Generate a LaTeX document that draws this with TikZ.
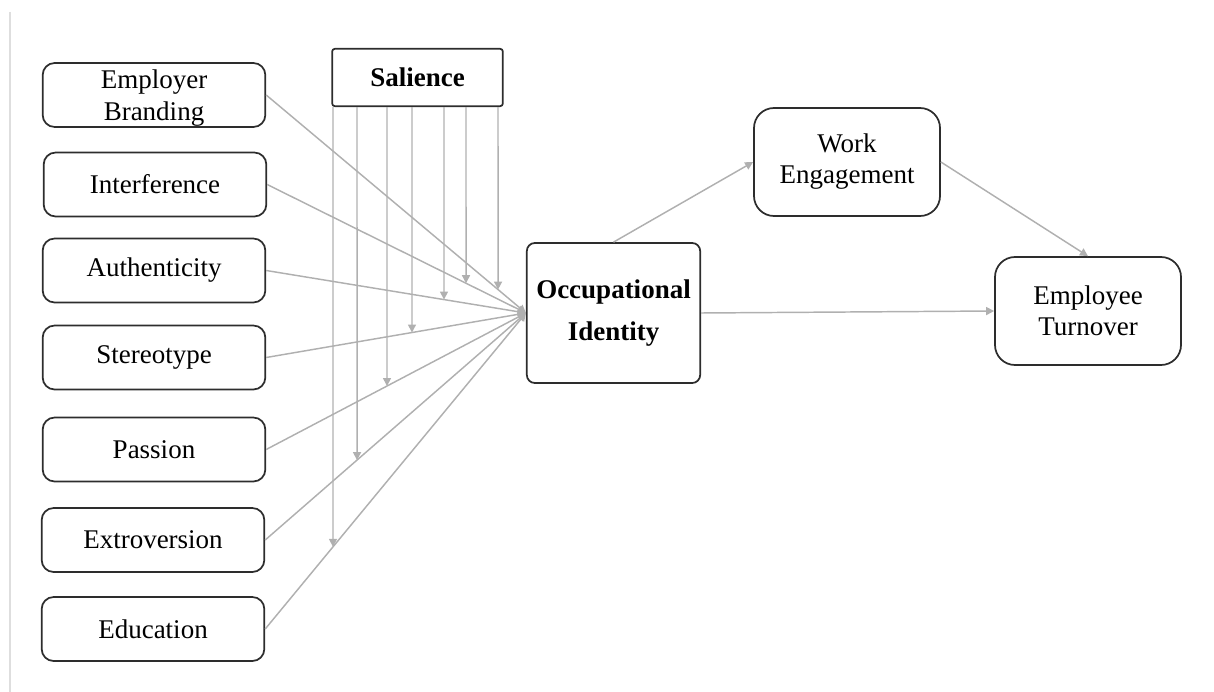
\documentclass[tikz,border=0pt]{standalone}
\usepackage{fontspec}
\setmainfont{Liberation Serif}
\usetikzlibrary{arrows.meta}
\definecolor{linegray}{RGB}{176,176,176}
\definecolor{boxline}{RGB}{45,45,45}
\newcommand{\boxfont}{\fontsize{20.25}{23.25}\selectfont}
\tikzset{
  factor/.style={draw=boxline, line width=1.3pt, rounded corners=9pt, minimum width=167pt, minimum height=48pt, align=center, font=\boxfont},
  outcome/.style={draw=boxline, line width=1.3pt, rounded corners=15pt, minimum width=139.5pt, minimum height=81pt, align=center, font=\boxfont},
  conn/.style={draw=linegray, line width=1.1pt, -{Triangle[length=6pt,width=6pt]}}
}
\begin{document}
\begin{tikzpicture}[x=0.75pt,y=0.75pt,yscale=-1,xscale=1]
\useasboundingbox (0,0) rectangle (1214,692);
\draw [draw={rgb, 255:red, 222; green, 222; blue, 222 }, line width=1.3pt] (10,12) -- (10,692) ;
\node [factor, text depth=0pt] (emp) at (154,95) {Employer\\[0.75pt]Branding};
\node [factor] (intf) at (155,184.5) {Interference};
\node [factor] (auth) at (154,270.5) {Authenticity};
\node [factor] (ster) at (154,357.5) {Stereotype};
\node [factor] (pass) at (154,449.5) {Passion};
\node [factor] (extr) at (153,540) {Extroversion};
\node [factor] (edu) at (153,629) {Education};
\node [draw=boxline, line width=1.3pt, rounded corners=2pt, minimum width=128pt, minimum height=43pt, font=\boxfont\bfseries] (sal) at (417.5,77.5) {Salience};
\node [draw=boxline, line width=1.3pt, rounded corners=6pt, minimum width=130pt, minimum height=105pt, align=center, font=\boxfont\bfseries] (oi) at (613.5,313) {Occupational\\[8.25pt]Identity};
\node [outcome] (we) at (847,162) {Work\\Engagement};
\node [outcome] (et) at (1088,311) {Employee\\Turnover};
\foreach \src/\xx [count=\i] in {emp/498,intf/466,auth/444,ster/412,pass/387,extr/357,edu/333}{
  \coordinate (top\i) at (\xx,0 |- sal.south);
  \coordinate (bot\i) at (\xx,700);
  \draw [conn] (\src.east) -- (oi.west);
  \draw [conn] (top\i) -- (intersection of \src.east--oi.west and top\i--bot\i);
}
\draw [conn] (oi.north) -- (we.west);
\draw [conn] (we.east) -- (et.north);
\draw [conn] (oi.east) -- (et.west);
\end{tikzpicture}
\end{document}
